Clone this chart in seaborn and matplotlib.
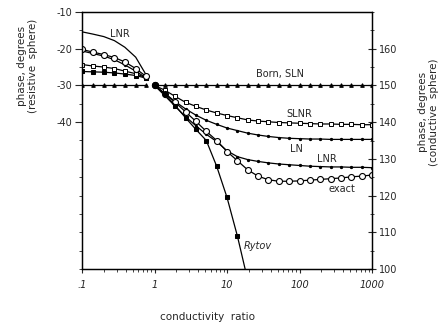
import numpy as np
import pandas as pd
import matplotlib
matplotlib.use("Agg")
import matplotlib.pyplot as plt
import seaborn as sns

# ---------------- data ----------------
# resistive sphere (left axis, degrees), conductivity ratio < 1
x_left = [0.1, 0.14, 0.2, 0.28, 0.39, 0.55, 0.76]
left_exact = [-20.2, -20.9, -21.6, -22.4, -23.6, -25.4, -27.5]
left_ln = [-20.6, -21.3, -22.0, -23.0, -24.4, -26.1, -27.9]
left_slnr = [-24.3, -24.7, -25.0, -25.4, -26.1, -26.8, -27.9]
left_rytov = [-26.2, -26.3, -26.4, -26.6, -26.9, -27.3, -28.0]
left_born = [-30.0, -30.0, -30.0, -30.0, -30.0, -30.0, -30.0]
left_lnr = [-15.4, -16.0, -16.7, -17.8, -19.6, -22.3, -27.0]

# conductive sphere (right axis, degrees), conductivity ratio >= 1
x_right = [1, 1.39, 1.93, 2.68, 3.73, 5.18, 7.2, 10, 13.9, 19.3, 26.8, 37.3,
           51.8, 72, 100, 139, 193, 268, 373, 518, 720, 1000]
right_exact = [150, 147.8, 145.4, 142.8, 140.2, 137.5, 135.0, 132.0, 129.5,
               127.0, 125.3, 124.3, 123.9, 123.9, 124.0, 124.2, 124.4, 124.6,
               124.8, 125.1, 125.3, 125.6]
right_slnr = [150, 148.7, 147.0, 145.4, 144.3, 143.3, 142.5, 141.8, 141.2,
              140.6, 140.3, 140.1, 139.9, 139.8, 139.7, 139.6, 139.5, 139.5,
              139.4, 139.4, 139.3, 139.3]
right_ln = [150, 147.8, 145.6, 143.6, 141.9, 140.5, 139.4, 138.4, 137.7,
            137.0, 136.5, 136.1, 135.8, 135.6, 135.5, 135.4, 135.4, 135.3,
            135.3, 135.3, 135.3, 135.3]
right_lnr = [150, 147.2, 144.3, 141.5, 139.0, 136.7, 134.7, 132.2, 130.6,
             129.8, 129.3, 128.9, 128.6, 128.4, 128.2, 128.0, 127.9, 127.8,
             127.8, 127.7, 127.7, 127.6]
right_born = [150] * 22
x_rytov = [1, 1.39, 1.93, 2.68, 3.73, 5.18, 7.2, 10, 13.9, 19.3]
right_rytov = [150, 147.7, 144.5, 141.2, 138.0, 135.0, 128.0, 119.5, 109.0, 97.0]

x_ticks = [0.1, 1, 10, 100, 1000]
x_ticklabels = [".1", "1", "10", "100", "1000"]
left_ticks = [-40, -30, -20, -10]
left_ticklabels = ["-40", "-30", "-20", "-10"]
right_ticks = [100, 110, 120, 130, 140, 150, 160]

# ---------------- figure ----------------
sns.set_style("ticks")
plt.rcParams["font.family"] = ["DejaVu Sans"]

fig = plt.figure(figsize=(4.45, 3.25), dpi=100)
ax = fig.add_axes([82 / 445, 1 - 269 / 325, 290 / 445, 257 / 325])
ax2 = ax.twinx()

K = dict(color="black", lw=0.9, sort=False, legend=False)

# left side
sns.lineplot(x=x_left, y=left_lnr, ax=ax, **K)
sns.lineplot(x=x_left, y=left_born, ax=ax, marker="^", markersize=2.6,
             mfc="black", mec="black", **K)
sns.lineplot(x=x_left, y=left_rytov, ax=ax, marker="s", markersize=2.8,
             mfc="black", mec="black", **K)
sns.lineplot(x=x_left, y=left_slnr, ax=ax, marker="s", markersize=3.2,
             mfc="white", mec="black", mew=0.7, **K)
sns.lineplot(x=x_left, y=left_ln, ax=ax, marker="o", markersize=1.6,
             mfc="black", mec="black", **K)
sns.lineplot(x=x_left, y=left_exact, ax=ax, marker="o", markersize=4.3,
             mfc="white", mec="black", mew=0.8, **K)

# right side
sns.lineplot(x=x_right, y=right_born, ax=ax2, marker="^", markersize=2.6,
             mfc="black", mec="black", **K)
sns.lineplot(x=x_right, y=right_slnr, ax=ax2, marker="s", markersize=3.2,
             mfc="white", mec="black", mew=0.7, **K)
sns.lineplot(x=x_right, y=right_ln, ax=ax2, marker="o", markersize=1.6,
             mfc="black", mec="black", **K)
sns.lineplot(x=x_right, y=right_lnr, ax=ax2, marker="o", markersize=1.6,
             mfc="black", mec="black", **K)
sns.lineplot(x=x_right, y=right_exact, ax=ax2, marker="o", markersize=4.3,
             mfc="white", mec="black", mew=0.8, **K)
sns.lineplot(x=x_rytov, y=right_rytov, ax=ax2, marker="s", markersize=2.8,
             mfc="black", mec="black", **K)
sns.lineplot(x=[1], y=[150], ax=ax2, marker="o", markersize=4.5,
             mfc="black", mec="black", **K)

ax.set_xscale("log")
ax.set_xlim(0.1, 1000)
ax.set_ylim(-80, -10)
ax2.set_ylim(100, 170)

ax.set_xticks(x_ticks)
ax.set_xticklabels(x_ticklabels)
ax.set_yticks(left_ticks)
ax.set_yticklabels(left_ticklabels)
ax.set_yticks(np.arange(-80, -9, 5), minor=True)
ax2.set_yticks(right_ticks)
ax2.set_yticklabels([str(v) for v in right_ticks])
ax2.set_yticks(np.arange(100, 171, 5), minor=True)

for a in (ax, ax2):
    a.set_xlabel("")
    a.set_ylabel("")
    for s in a.spines.values():
        s.set_linewidth(0.9)
        s.set_color("black")

ax.tick_params(axis="x", which="major", direction="out", length=3, width=0.8,
               labelsize=7, pad=5)
ax.tick_params(axis="x", which="minor", direction="out", length=2, width=0.6)
ax.tick_params(axis="y", which="major", direction="out", length=5, width=0.8,
               labelsize=7, pad=2)
ax.tick_params(axis="y", which="minor", direction="out", length=2.5, width=0.6)
ax2.tick_params(axis="y", which="major", direction="inout", length=6, width=0.8,
                labelsize=7, pad=2)
ax2.tick_params(axis="y", which="minor", direction="inout", length=3, width=0.6)

for lbl in ax.get_xticklabels():
    lbl.set_style("italic")

# curve labels
fs = 7
ax2.text(0.33, 163.9, "LNR", fontsize=fs, ha="center", va="center")
ax2.text(53.8, 153.0, "Born, SLN", fontsize=fs, ha="center", va="center")
ax2.text(98.4, 142.2, "SLNR", fontsize=fs, ha="center", va="center")
ax2.text(91, 132.6, "LN", fontsize=fs, ha="center", va="center")
ax2.text(237, 129.9, "LNR", fontsize=fs, ha="center", va="center")
ax2.text(382, 121.9, "exact", fontsize=fs, ha="center", va="center")
ax2.text(26.3, 106.2, "Rytov", fontsize=fs, ha="center", va="center",
         style="italic")

# axis titles
fs2 = 7.5
fig.text(22 / 445, 1 - 66 / 325, "phase, degrees", rotation=90,
         ha="center", va="center", fontsize=fs2)
fig.text(33 / 445, 1 - 66 / 325, "(resistive  sphere)", rotation=90,
         ha="center", va="center", fontsize=fs2)
fig.text(423 / 445, 1 - 112 / 325, "phase, degrees", rotation=90,
         ha="center", va="center", fontsize=fs2)
fig.text(434 / 445, 1 - 112 / 325, "(conductive  sphere)", rotation=90,
         ha="center", va="center", fontsize=fs2)
fig.text(207 / 445, 1 - 317 / 325, "conductivity  ratio",
         ha="center", va="center", fontsize=fs2)

fig.savefig("out.png", dpi=100)
